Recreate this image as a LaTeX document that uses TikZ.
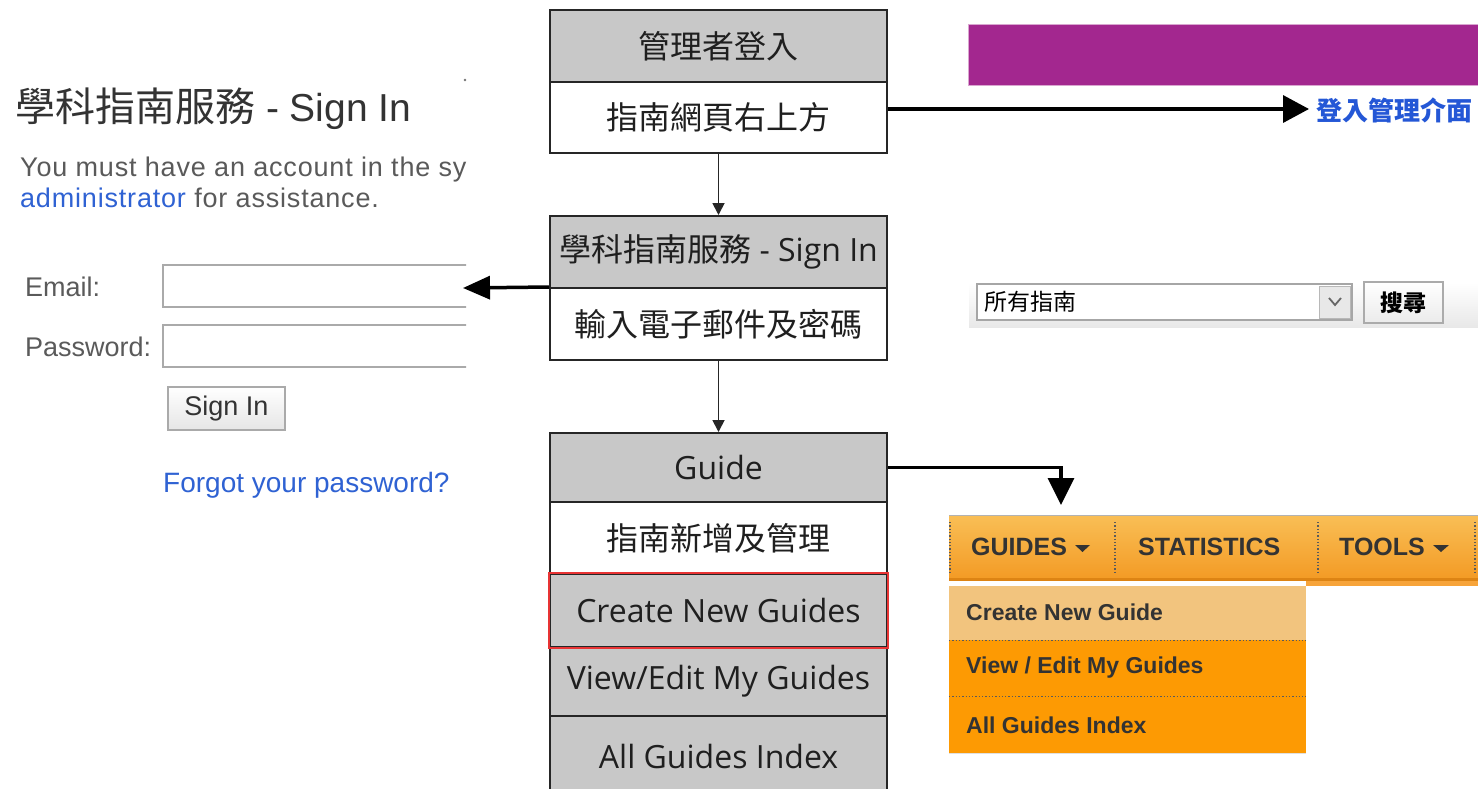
\documentclass[tikz,border=0pt]{standalone}
\usepackage{fontspec}
\setmainfont{Liberation Sans}
\newfontfamily\cjk{Noto Sans CJK TC}
\newfontfamily\osans{Open Sans}
\usetikzlibrary{arrows.meta}
\definecolor{boxgray}{HTML}{C8C8C8}
\definecolor{boxline}{HTML}{262626}
\definecolor{hlred}{HTML}{E83434}
\definecolor{txtdark}{HTML}{333333}
\definecolor{txtgray}{HTML}{5A5A5A}
\definecolor{linkblue}{HTML}{2F62D3}
\definecolor{loginblue}{HTML}{2457D6}
\definecolor{purplebar}{HTML}{A3278F}
\definecolor{purpleedge}{HTML}{D9A6D0}
\definecolor{inputline}{HTML}{AAAAAA}
\definecolor{orTop}{HTML}{F9BE55}
\definecolor{orBot}{HTML}{F39A24}
\definecolor{orDark}{HTML}{DD8414}
\definecolor{orStrip}{HTML}{F7A43A}
\definecolor{ddLight}{HTML}{F2C47E}
\definecolor{ddOrange}{HTML}{FD9A03}
\definecolor{navtext}{HTML}{333333}
\tikzset{
  rowgray/.style={draw=boxline, line width=2pt, fill=boxgray, minimum width=337pt,
    inner sep=0pt, font=\osans\fontsize{32}{36}\selectfont, text=black!88},
  rowwhite/.style={rowgray, fill=white},
  leftbase/.style={anchor=base west, inner sep=0pt, text=txtgray, font=\fontsize{27}{31}\selectfont},
  formlabel/.style={leftbase, font=\fontsize{27}{31}\selectfont},
  inputbox/.style={draw=inputline, line width=1.5pt, fill=white},
  bigarrow/.style={draw=black, line width=3.5pt, -{Triangle[length=26pt,width=27pt]}},
  smallarrow/.style={draw=boxline, line width=1.8pt, -{Triangle[length=12pt,width=12pt]}},
  navitem/.style={anchor=west, inner sep=0pt, text=navtext, font=\bfseries\fontsize{25}{29}\selectfont},
  dditem/.style={anchor=west, inner sep=0pt, text=navtext, font=\bfseries\fontsize{23}{27}\selectfont},
  navsep/.style={draw=txtgray, line width=1.3pt, dotted},
}
\begin{document}
\begin{tikzpicture}[x=1pt,y=-1pt]
\useasboundingbox (0,0) rectangle (1478,788);
\fill[white] (0,0) rectangle (1478,788);

% ---------- left: sign-in page ----------
\begin{scope}
\clip (0,0) rectangle (466,788);
\node[anchor=base west, inner sep=0pt, text=txtdark, font=\fontsize{39}{44}\selectfont] (hdr) at (15,121)
  {{\cjk\fontsize{40}{44}\selectfont 學科指南服務} - Sign In};
\node[leftbase] (msg1) at (20,176) {\addfontfeatures{LetterSpace=3}You must have an account in the sy};
\node[leftbase] (msg2) at (20,207) {\addfontfeatures{LetterSpace=3}\textcolor{linkblue}{administrator} for assistance.};
\node[formlabel] (lemail) at (25,296) {Email:};
\node[formlabel] (lpass) at (25,356) {Password:};
\draw[inputbox] (163,265) rectangle (490,307);
\draw[inputbox] (163,325) rectangle (490,367);
\node[draw=inputline, line width=1.5pt, top color=white, bottom color=black!10,
  minimum width=117pt, minimum height=43pt, inner sep=0pt, text=txtdark,
  font=\fontsize{27}{31}\selectfont] (signbtn) at (226.5,408.5) {Sign In};
\node[leftbase, text=linkblue, font=\fontsize{28}{32}\selectfont] (forgot) at (163,492) {Forgot your password?};
\end{scope}
\fill[black!55] (465,80) circle (1.3);

% ---------- middle: flow boxes ----------
\node[rowgray, minimum height=72pt] (r1a) at (718.5,46) {\cjk 管理者登入};
\node[rowwhite, minimum height=71pt] (r1b) at (718.5,117.5) {\cjk 指南網頁右上方};
\node[rowgray, minimum height=72pt] (r2a) at (718.5,252) {{\cjk 學科指南服務} - Sign In};
\node[rowwhite, minimum height=72pt] (r2b) at (718.5,324) {\cjk 輸入電子郵件及密碼};
\node[rowgray, minimum height=69pt] (r3a) at (718.5,467.5) {Guide};
\node[rowwhite, minimum height=72pt] (r3b) at (718.5,538) {\cjk 指南新增及管理};
\node[rowgray, minimum height=73pt] (r3c) at (718.5,610.5) {Create New Guides};
\node[rowgray, minimum height=69pt] (r3d) at (718.5,681.5) {View/Edit My Guides};
\node[rowgray, minimum height=80pt] (r3e) at (718.5,756) {All Guides Index};
\draw[hlred, line width=2pt] (r3c.south west) rectangle (r3c.north east);

\draw[smallarrow] (r1b.south) -- (r2a.north);
\draw[smallarrow] (r2b.south) -- (r3a.north);

% ---------- right: top bar ----------
\fill[purplebar] (968,24) rectangle (1478,85);
\draw[purpleedge, line width=0.8pt] (1478,24) -- (968,24) -- (968,85) -- (1478,85);
\node[anchor=west, inner sep=0pt, text=loginblue, font=\cjk\bfseries\fontsize{26}{30}\selectfont]
  (login) at (1316,110) {登入管理介面};
\coordinate (tipA) at (1309,109);
\draw[bigarrow] (r1b.east |- tipA) -- (tipA);

% ---------- right: search ----------
\shade[top color=white, bottom color=black!9] (969,283) rectangle (1478,327);
\draw[draw=black!35, fill=white, line width=1.2pt] (977,284) rectangle (1352,320);
\draw[draw=black!28, fill=black!9, line width=1pt] (1319,286) rectangle (1350,318);
\draw[black!60, line width=1.8pt] (1329,298) -- (1335,305) -- (1341,298);
\node[anchor=west, inner sep=0pt, text=black, font=\cjk\fontsize{23}{27}\selectfont] (selall) at (984,302) {所有指南};
\node[draw=black!33, line width=1.2pt, top color=white, bottom color=black!8,
  minimum width=79pt, minimum height=41pt, inner sep=0pt, text=black,
  font=\cjk\bfseries\fontsize{23}{27}\selectfont] (searchbtn) at (1403.5,302.5) {搜尋};
\coordinate (leftTip) at (463,288);
\draw[bigarrow, -{Triangle[length=27pt,width=23pt]}] (r2b.north west) -- (leftTip);

% ---------- right: orange navigation ----------
\shade[top color=orTop, bottom color=orBot] (949,516) rectangle (1478,580);
\draw[black!30, line width=1.5pt] (949,515.5) -- (1478,515.5);
\fill[orDark] (949,578) rectangle (1478,581);
\fill[orStrip] (1306,581) rectangle (1478,586);
\draw[navsep] (950,522) -- (950,574);
\draw[navsep] (1115,522) -- (1115,574);
\draw[navsep] (1318,522) -- (1318,574);
\draw[navsep] (1475,522) -- (1475,574);
\node[navitem] (nguides) at (971,547) {GUIDES};
\node[navitem] (nstat) at (1138,547) {STATISTICS};
\node[navitem] (ntools) at (1339,547) {TOOLS};
\fill[navtext] (1075,545) -- (1090,545) -- (1082.5,552) -- cycle;
\fill[navtext] (1433,545) -- (1449,545) -- (1441,552) -- cycle;

\fill[ddLight] (949,586) rectangle (1306,640);
\fill[ddOrange] (949,640) rectangle (1306,753);
\draw[navsep] (949,640.5) -- (1306,640.5);
\draw[navsep] (949,696.5) -- (1306,696.5);
\draw[black!12, line width=1pt] (949,753.5) -- (1306,753.5);
\node[dditem] (dd1) at (966,612) {Create New Guide};
\node[dditem] (dd2) at (966,668) {View / Edit My Guides};
\node[dditem] (dd3) at (966,725) {All Guides Index};

\coordinate (tipG) at (1061,505);
\draw[bigarrow, -{Triangle[length=27pt,width=26pt]}] (r3a.east) -| (tipG);
\end{tikzpicture}
\end{document}
